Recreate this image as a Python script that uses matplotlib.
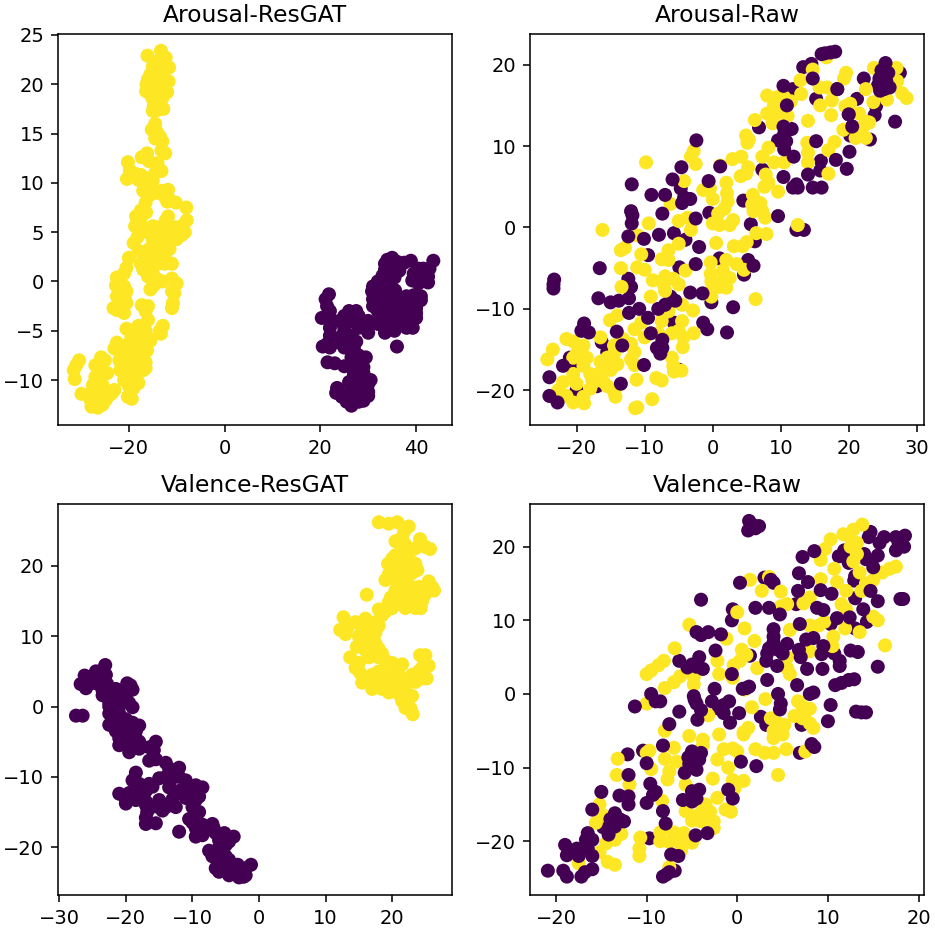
import matplotlib
matplotlib.use("Agg")
import matplotlib.pyplot as plt

titles = ["Arousal-ResGAT", "Arousal-Raw", "Valence-ResGAT", "Valence-Raw"]
xlims = [(-34.8, 47.5), (-26.85, 31.05), (-30.2, 29.0), (-22.87, 20.6)]
ylims = [(-14.56, 25.1), (-24.27, 23.77), (-26.8, 28.8), (-27.3, 25.8)]

arousal_gat_low = [(35,2.4),(34,2.2),(36,2),(33.5,1.8),(37.5,1.9),(38.9,2.1),(43.6,2.1),(35,1.3),(33.5,1.2),(36.5,1.1),(42.8,1.3),(41.5,1.3),(40.5,1.3),(34.5,0.6),(33,0.6),(39.5,0.8),(42.5,0.5),(41,0.5),(35.5,0.4),(33.8,0),(32,0),(39.2,0.1),(42.5,-0.1),(40.5,-0.2),(31,-0.5),(32.5,-0.6),(34.5,-0.5),(35.6,-0.9),(30.8,-1),(32,-1.5),(34,-1.5),(38,-1.5),(39.5,-1.4),(41,-1.5),(21.8,-1.3),(31,-1.8),(33,-2),(35,-2),(37,-1.8),(40,-2),(21.1,-1.8),(41,-1.9),(36,-2.5),(38,-2.5),(40,-2.7),(31,-2.5),(32,-3),(34,-2.6),(21.4,-2.5),(22,-3),(26,-3),(27.5,-3),(32.5,-3.5),(36,-3.2),(38,-3.3),(40,-3.2),(21.8,-3.5),(25,-3.5),(28,-3.5),(34,-3.5),(37,-3.8),(40,-3.7),(20.3,-3.7),(22,-4),(24,-4),(26,-4),(27.5,-4.2),(30,-4),(32,-4.3),(35,-4.2),(38,-4.2),(22,-4.7),(25,-4.7),(28,-4.7),(30,-4.6),(33,-4.5),(36,-4.5),(38,-4.7),(39.3,-4.7),(30,-5.2),(33.5,-5.2),(35.5,-5),(22,-5.5),(24.5,-5.5),(26.5,-5.5),(21.5,-6.3),(24,-6.2),(26,-6),(27.5,-6.1),(20.5,-6.6),(22,-6.7),(36,-6.6),(25,-6.7),(27,-6.8),(28,-7.5),(29.5,-7.7),(26.5,-7.7),(28,-8.2),(21.5,-8.2),(23,-8.3),(25,-8.6),(26.5,-8.7),(29,-8.7),(29,-9.3),(27,-9.5),(28,-10),(26,-10.2),(30.5,-10),(30,-10.4),(27,-10.8),(23.5,-10.8),(29,-10.8),(24,-11.2),(26,-11.4),(30,-11.2),(23.3,-11.3),(24.5,-11.7),(28,-11.8),(30,-11.6),(29,-12.1),(25.5,-12.2),(26.5,-12.6),(28,-12.2)]
arousal_gat_high = [(-16.1,22.9),(-13.3,23.4),(-12.3,22.7),(-14,22.3),(-15,21.8),(-12,21.8),(-11.6,21.7),(-13.5,21.3),(-15.5,21),(-14.5,20.8),(-16,20.5),(-12.5,20.5),(-11.7,20.3),(-14,20),(-16.3,20),(-15,19.8),(-13,19.6),(-16.4,19.3),(-15.5,19),(-14,19),(-12,19.2),(-13,18.6),(-15,18.5),(-14.8,17.8),(-15,17.3),(-14,17.4),(-12.8,17.5),(-14.2,18),(-14.5,16),(-15.2,15.4),(-14.2,15.2),(-14.5,14.5),(-13.5,14.7),(-13,14.2),(-13.2,13.3),(-12.4,13),(-16.2,13),(-17.3,12.6),(-15.8,12.2),(-20.2,12.1),(-19.8,11.3),(-14,12),(-13.2,11.2),(-14.5,11),(-19.6,10.8),(-20.4,10.4),(-18.5,10.9),(-17.5,10.8),(-18,10.3),(-16.5,10.5),(-15.8,10.4),(-15,10.2),(-16,9.5),(-17,9.2),(-15.5,8.8),(-14,9),(-13,9.2),(-11.8,9.3),(-12.5,8.6),(-11.5,8.3),(-10.2,8),(-12,8.1),(-16.5,8),(-17.5,7.2),(-8,7.5),(-16.4,7),(-18.5,6.6),(-17.5,6.5),(-11.8,6.6),(-12.3,6.2),(-7.9,6.2),(-9,5.6),(-17.6,5.8),(-18.7,5.6),(-15,5.6),(-13.7,5.5),(-12,5.3),(-10.5,5.5),(-8.3,5),(-16,5),(-14.5,4.8),(-13,4.8),(-11,4.8),(-9,4.7),(-18.2,4.5),(-10,4.3),(-19,3.9),(-15,4.2),(-13.5,4),(-12,4),(-14.5,3.5),(-16,3.2),(-13,3.3),(-11.5,3.3),(-18,3.1),(-15,2.8),(-14,2.5),(-12.5,2.5),(-20,2.4),(-16.5,2.4),(-15.5,2),(-14,1.8),(-12.5,1.8),(-11,1.8),(-17.5,1.8),(-17,1.2),(-15.5,1.3),(-20.5,1.4),(-21,0.8),(-16,0.5),(-15,0.8),(-22.5,0.4),(-14,0.2),(-13,0),(-11,0.3),(-10,-0.2),(-14.8,-0.4),(-15.5,-0.8),(-22.7,-0.4),(-21,-0.5),(-20.5,-1),(-11,-1),(-10.5,-1.2),(-22.5,-1.5),(-20.8,-1.8),(-22,-2.2),(-10.8,-2.2),(-20.5,-2.2),(-11,-2.7),(-23.2,-2.7),(-22.5,-2.9),(-21,-3.2),(-17.3,-2.4),(-16,-2.5),(-16.5,-3),(-16,-3.9),(-12.9,-4.5),(-13.5,-5),(-13.3,-5.3),(-20.5,-4.8),(-18.7,-4.9),(-18,-4.5),(-16.5,-5),(-19.5,-5.5),(-17.5,-5.5),(-16,-5.7),(-18.5,-6),(-15.5,-6),(-22.5,-6.2),(-20,-6.3),(-17,-6.5),(-23,-6.8),(-21.5,-7),(-19,-7),(-17.5,-7),(-16.2,-7),(-20,-7.5),(-18.5,-7.7),(-17,-7.8),(-25.8,-7.7),(-25,-8),(-30.4,-8),(-31,-8.5),(-22,-8),(-16.5,-8.2),(-21,-8.5),(-19.5,-8.6),(-18,-8.6),(-16.5,-8.8),(-27,-8.5),(-26.3,-8.8),(-21.8,-9),(-17,-9),(-31.5,-9),(-20,-9.3),(-18.3,-9.5),(-25.5,-9.3),(-24.5,-9.3),(-27,-9.7),(-31.3,-9.9),(-21,-10),(-19.5,-10),(-18,-10.3),(-26.5,-10.3),(-27.5,-10.5),(-25.5,-10.5),(-20,-10.6),(-19,-10.8),(-27,-11),(-25,-11.2),(-23,-11),(-28,-11.4),(-29.9,-11.4),(-26.5,-11.5),(-24,-11.5),(-23.5,-11.3),(-20.2,-11.7),(-19.4,-11.9),(-28,-12),(-26,-12),(-24.8,-12),(-27,-12.5),(-27.8,-12.7),(-26.5,-12.8),(-25.5,-12.5)]

arousal_raw_low = [(13.3,19.7),(14.5,20.1),(11.8,17),(18.3,17),(15.2,15.8),(21.2,15.8),(22.2,18.3),(27.5,19),(24.3,17.5),(24,14.9),(23.8,13.8),(20,13.9),(20.5,12.4),(20.2,11.3),(23.1,10.8),(6.8,12.3),(11.6,12.1),(9.6,10.7),(10.8,10.6),(15.9,8.2),(7.3,7.1),(15.8,7),(10.4,6.2),(-4.7,4.8),(-4.2,3.7),(-3.3,3.5),(4.5,3.3),(-0.5,1.8),(5.6,0.4),(12.3,-0.3),(13.4,-0.3),(-5.7,-0.7),(-4,-1.5),(6.2,-1.7),(-9.5,-3.4),(5.2,-4),(1,-3.8),(-4.9,-4.9),(4.6,-5.8),(-12.4,-6.3),(-12,-7.3),(-12.3,-8.7),(-6.2,-8.5),(-0.2,-9.2),(-5.7,-11.7),(-16.3,-14.1),(-15.5,-15.3),(-21,-16),(-20.3,-17),(-4.9,-17.5),(-20,-20),(-17,-19.5)]
arousal_raw_high = [(16.7,20.9),(14.7,19.4),(23.7,19.6),(27,19.6),(19.6,19),(19.3,18.3),(12.9,18.1),(15.7,17.2),(16.8,17.2),(27.1,18),(22.5,17),(13,16.4),(8,16.2),(9.5,16),(10.5,16),(9,15),(11.5,15.5),(15.8,15),(17.5,15.6),(19.5,14.9),(20.2,15.2),(23.6,15.4),(25.6,15.7),(27.8,16.5),(28.5,15.9),(8,14),(9.5,14),(17.4,13.8),(21.5,14),(22.5,13),(11,13.7),(6.2,13.2),(8.8,12.8),(14,13.1),(23,12.9),(22.2,12.5),(19.2,12),(21.8,11.7),(4.9,11.3),(5.3,10.8),(5.1,10.4),(22.5,11),(21,11),(13.9,10.4),(17.9,10.5),(17,9.5),(8.2,9.8),(-2.8,9.4),(-3.2,8.7),(2.9,8.4),(4.2,8.7),(14,9.2),(7.3,8.7),(-2.5,7.8),(14,8),(9,8),(10.5,8),(1.1,7.6),(5.2,7.4),(4.9,6.6),(4.1,6.3),(7.8,6.5),(17,6.6),(-9.8,8),(-4.2,5.7),(2,5.5),(8.2,5.5),(7.6,5),(-1.4,4.6),(-0.4,4.8),(9.6,4.4),(2.1,4.2),(5.9,4),(0,3.5),(2.2,3.2),(7,3),(5.8,2.8),(-6.2,2.9),(1.7,2.3),(6,2),(7.3,2),(0.8,1.7),(-3.7,1.2),(3,0.9),(-9.4,0.5),(7.7,1.2),(-5,0.8),(0,0.5),(1,0.3),(2.5,0.3),(12.5,0.3),(-16.2,-0.3),(-3.2,-0.3),(6.4,-0.7),(7.9,-0.8),(-11,-1),(0.5,-1.9),(3.1,-2.3),(4.4,-2.3),(5,-1.8),(-5,-2),(-6.5,-2.8),(-12.9,-2.5),(-13.5,-2.8),(-10.5,-3.3),(-7.5,-3.9),(-6.5,-4),(3.5,-4.5),(2,-4),(-0.3,-4.3),(-13.5,-5),(-11.1,-4.9),(-10,-5.2),(-4,-5.3),(-0.3,-5.7),(1.5,-5.3),(4.6,-5.2),(-8.8,-6.5),(-7,-6),(-5.8,-6.3),(-0.2,-6.6),(1.5,-6.5),(2.5,-6.2),(-7.2,-7),(-5,-7),(0,-7.3),(1,-7.3),(2,-7.4),(-13.4,-7.3),(-7,-7.8),(-0.2,-8.5),(-9.1,-8.5),(6.3,-8.8),(-4.5,-9.5),(-2.9,-10.2),(-6.5,-10.3),(-15.1,-11.4),(-14,-10.8),(-10.5,-11.7),(-7.5,-11.5),(-4.5,-11.5),(-11.5,-12.5),(-8,-13),(-5,-12.7),(-2.8,-13),(-13.2,-13.7),(-10,-13.5),(-6,-13),(-4.3,-13.5),(-21.5,-13.7),(-20.5,-14),(-19,-14.5),(-16.5,-13.5),(-14.5,-14.5),(-12,-14.3),(-4.4,-14.7),(-23.5,-15),(-20,-15.5),(-14.5,-15.5),(-11.5,-15.3),(-24.3,-16.2),(-20.5,-16),(-18.5,-16),(-15.5,-16),(-12,-16.2),(-6,-16),(-19,-17),(-16.5,-16.5),(-14,-16.8),(-11.5,-16.9),(-5.8,-17),(-5.7,-17.7),(-4.6,-17.6),(-18,-18),(-16.5,-17.8),(-15,-17.5),(-20.5,-18),(-17.7,-18.7),(-11.2,-18.7),(-8.3,-18.5),(-7.5,-18.8),(-22,-19),(-20,-19.2),(-17.5,-19),(-16,-19),(-15.5,-19.5),(-22.7,-20),(-18,-19.8),(-14.5,-20.2),(-21.5,-20.7),(-19,-20.8),(-14.3,-20.8),(-8.9,-21.1),(-20.5,-21.5),(-18.9,-21.6),(-11.1,-22.1),(-11.4,-22.2)]
# these purple dots sit over the yellow ones
arousal_raw_low_top = [(18,21.6),(17.3,21.5),(16.5,21.4),(16,21.3),(14.7,18.3),(10.4,17.4),(18.3,17),(10.9,15),(25.4,20.2),(24.8,19.3),(25.8,19),(24.5,18.3),(25.5,18),(25.2,17),(26,17.2),(24.6,16.8),(26.8,13),(20,13.9),(20.5,12.4),(10.4,12.4),(10.5,11.5),(10.5,9.6),(15.2,10.6),(11.9,8.7),(18.1,8.3),(20.1,9.3),(19.7,7.2),(14,6.5),(12.3,5.3),(12.5,4.9),(11.8,4.9),(14.7,4.9),(16,4.9),(-2.4,10.7),(-4.6,7.4),(1.1,7.5),(-5.9,5.9),(-0.6,5.7),(-11.9,5.3),(-9,4),(-7,4),(-4.5,3),(-7.4,1.7),(-12,2),(-11.8,1.5),(-11.9,0.5),(-2.5,1.1),(9.6,1.4),(-12.4,-1.1),(-10.1,-1.4),(-7.9,-0.9),(-2,-2.4),(6,-4.7),(-2.5,-4.5),(-16.6,-5),(-23.3,-6.4),(-23.4,-7),(-23.4,-7.5),(-16.8,-8.7),(-15,-9.2),(-13.8,-9),(-3.3,-8),(-1.5,-8.1),(-5.5,-9),(-7,-9.5),(-10.8,-10),(-8,-10),(-12.3,-10.5),(-9.5,-11.1),(3,-9.8),(-1.4,-11.7),(-0.8,-12.5),(2.1,-12.9),(-18.9,-11.8),(-19.3,-12.7),(-18.2,-12.9),(-14.1,-12.8),(-9.1,-13),(-13.3,-14.5),(-7.4,-13.8),(-7.4,-14.8),(-8.2,-14.8),(-7.7,-15.5),(-22,-17),(-10.1,-16.9),(-24,-18.4),(-13.5,-19.2),(-24,-20.7),(-22.8,-21.5)]

valence_gat_low = [(-23.1,5.9),(-23.5,5.2),(-24.5,5),(-26.2,4.4),(-23,4.5),(-25,4),(-23.5,4),(-26.8,3.2),(-25.8,3),(-24.5,3.3),(-22.8,3.2),(-19.8,3.3),(-19.3,3),(-26,2.6),(-23.5,2.3),(-21.5,2.5),(-20,2.3),(-19,2.4),(-23.5,1.6),(-22,1.5),(-20,1.5),(-21,0.8),(-22.5,0.5),(-19.5,0.5),(-21,0),(-22.5,0),(-19,-0.1),(-27.5,-1.3),(-26.5,-1.3),(-22.5,-1),(-21,-1),(-22,-2),(-20,-1.8),(-21,-2.5),(-19,-2.3),(-22.5,-2.6),(-20,-3),(-18,-2.7),(-21.5,-3.5),(-19.5,-3.6),(-18.5,-3.5),(-21,-4.5),(-20,-4.2),(-18.5,-4.5),(-21,-5.5),(-19.5,-5.2),(-18,-5),(-15.5,-5),(-19.5,-6.5),(-18,-6),(-16.5,-5.8),(-15.8,-6.2),(-16.5,-7.7),(-15.5,-7.5),(-14,-8),(-13.5,-8.8),(-12,-8.7),(-14,-10),(-18.5,-9.4),(-15,-10.2),(-13.3,-10.5),(-19,-10.5),(-11,-10.5),(-12,-10),(-18,-11),(-16.5,-11),(-16,-11.4),(-13.5,-11.5),(-11,-11.5),(-9.5,-11.2),(-8.5,-11.5),(-18,-12),(-17,-12),(-12,-12),(-10,-12.2),(-21,-12.4),(-19.5,-12.3),(-9,-12.8),(-20,-13.3),(-18.5,-13.3),(-17,-13.5),(-15,-13.3),(-13,-13.2),(-11,-13),(-9.5,-13.3),(-20,-13.8),(-17,-14),(-15.5,-14.2),(-14,-14.3),(-12.5,-14.3),(-10,-14.3),(-16.8,-15),(-14.5,-14.8),(-9,-15),(-17,-15.8),(-9.5,-15.8),(-10.5,-16),(-17,-16.7),(-15.5,-16.6),(-10,-16.5),(-8.5,-16.8),(-7,-16.7),(-6.8,-17.3),(-9.5,-17.3),(-8.2,-17.8),(-6.5,-18),(-12,-17.8),(-9.5,-18.5),(-8.5,-18.3),(-5.2,-18),(-3.8,-18.5),(-6,-19),(-4.5,-19.2),(-5,-19.7),(-6,-20),(-7.5,-20.5),(-6,-20.7),(-7,-21.3),(-5,-21.3),(-6,-22),(-4.5,-21.8),(-6.5,-23),(-5,-22.5),(-3.2,-22.5),(-1.2,-22.5),(-2,-23),(-6,-23.5),(-4,-23.5),(-2,-24),(-3,-24.3),(-4.5,-24),(-2.3,-24.2)]
valence_gat_high = [(18,26.2),(19.5,26),(20.8,26.2),(22.5,25.6),(21.8,24.9),(21.5,24),(20.5,23.5),(24.2,23.8),(24,22.8),(25,22.7),(23.5,22.5),(25.7,22.4),(22,23),(21.5,22),(20.5,21.5),(22.5,21.5),(20,21),(19.4,20.3),(21,20.5),(22.5,20.5),(23.5,20.3),(20,19.5),(22,19.8),(23.8,19.4),(19.5,18.8),(21,19),(23,19),(19,18),(20.5,18),(22,18),(25.5,17.8),(21,17),(23,17),(24,17),(26,17),(26.3,16.5),(20.5,16.5),(22,16),(24,16),(25,16),(16.2,15.9),(19.8,15.5),(21,15.5),(23,15),(24.5,15),(19.5,14.8),(21.5,14.5),(23.5,14.5),(22,14),(23.5,14),(24.3,14),(20,14),(18,13.8),(19,13.5),(18.5,13),(12.7,12.7),(16,12.5),(14.5,12),(17.5,12),(17,11.5),(18,11.5),(13.3,11.2),(15.5,11),(12.2,10.9),(17.5,10.5),(13,10.3),(15,10),(16,9.8),(17,9.5),(15.5,9),(17.5,9),(14.7,8.5),(16.5,8.5),(18,8.2),(16,8),(18.5,7.5),(24.2,7.3),(25,7.3),(16.5,7),(13.7,7),(18,7),(19,6.5),(20,6.2),(21.5,6),(15,6.2),(25.5,5.8),(14.5,5.5),(24.5,5.5),(18,5),(20,5),(24,5),(15.2,4.8),(17,4.5),(19,4.5),(21,4.5),(23,4.5),(24.5,4),(25.2,4),(15.5,3.4),(17.5,3.5),(19,3.5),(20.5,3.5),(22,3.8),(23.5,3.5),(17,2.5),(18.5,2.5),(20,2.5),(22,2.5),(19.5,2),(21,1.8),(22.5,1.5),(23,1.5),(21.5,0.8),(22.3,0.5),(22,-0.2),(22.8,-0.3),(23.1,-1.1)]

valence_raw_low = [(14.7,22),(14.5,21.3),(15.7,20.5),(11.2,18.7),(11.8,19.5),(12,18.5),(14,19),(14.2,18.3),(12.3,17.8),(13,16),(12.9,15.4),(3,15.8),(4,15.1),(-0.5,11.5),(6.5,12.2),(13,13),(-0.6,10),(10.3,9.5),(14.3,9.8),(13,8.9),(1.4,5.2),(10.7,5.5),(11.3,4.5),(-2,-2),(-6.4,4.5),(2.6,-3.1),(3.2,-4.2),(7.1,-4.2),(6.9,-8),(-10.4,-7.7),(-12.1,-8.2),(-12,-15),(-14.8,-18.1),(-9.7,-19.6),(-6.9,-24),(-13,-17)]
valence_raw_high = [(13.8,23),(12.8,22.3),(11.7,21.7),(12.5,21.2),(10.3,21),(13.2,20.5),(9.7,19.7),(12.5,20),(13.2,19),(9.2,18.2),(12.8,18),(10.7,17),(13.5,16.5),(17.5,17.3),(16.8,17),(16,16.5),(15,15.5),(9.2,15.6),(1.4,15.5),(3.5,15.9),(11,15.2),(14.2,15),(2.7,14),(4.8,13.9),(12,14),(13.7,14),(8,13.1),(7.3,12.3),(5.5,12.2),(4.8,11.9),(11.5,12.2),(12,11.5),(0,11.1),(15,10.5),(15.5,10),(-5.3,9.4),(8,9.3),(9,9.3),(9.6,9.8),(0.8,8.9),(11.9,8.9),(5.8,8.7),(13.5,8.4),(-1.2,7.5),(10.6,7.8),(1.9,7.2),(16.3,6.6),(-6.9,6.2),(0.5,6),(10.5,6.5),(8,5.8),(1,5.3),(0.3,4.5),(5.5,5),(-8.1,4.5),(-8.7,3.9),(-2.2,4.5),(-0.4,3.9),(-9.5,3.2),(2.2,3.5),(-10,2.7),(5.5,3.5),(5.8,2.7),(-2,2.7),(-0.5,2.2),(-6.3,2.4),(-4.8,2.3),(-7,1.6),(-4.8,1.3),(-8,0.8),(0.8,0.6),(3.1,-0.7),(6.7,-1),(7.2,-1.7),(-10,-1.3),(8,-2),(1.6,-1.8),(7.5,-2.5),(6.3,-3),(7.2,-3.3),(-3.2,-2.9),(3.7,-3.3),(8,-4),(4.5,-4),(5.2,-4.2),(8.4,-4.6),(1.2,-4.6),(0.7,-5.2),(4,-5),(4.7,-5.3),(-8,-5),(-2,-5.5),(5,-5.5),(-5.3,-5.7),(0.7,-5.5),(4,-6),(-3.8,-6.2),(-3.8,-7),(-7,-7.3),(-0.5,-7.4),(-1.5,-7.5),(-9.7,-7.7),(-10,-8),(2,-7.5),(0,-7.8),(5.4,-7.5),(7.5,-7.8),(3,-8),(4,-8),(-13.2,-8.8),(-8,-8.8),(-2.2,-8.9),(-6.7,-9.2),(-1,-10),(-9.5,-10.2),(-7.5,-10.5),(-13.3,-11),(4.5,-11),(-7.7,-11.6),(-2.7,-11.5),(-0.5,-11.7),(0.7,-11.8),(-11.9,-12.3),(-5.7,-12.3),(-0.3,-12.8),(-2.2,-14.1),(-8.3,-14.5),(-15.2,-15),(-3.5,-15),(-5.7,-15.9),(-3.8,-15.7),(-3,-16),(-1.3,-15.7),(-0.7,-16),(-14.8,-16.5),(-4.5,-16.5),(-3.2,-16.8),(-15.6,-17.5),(-5,-17.2),(-4,-17.3),(-2.6,-17.3),(-2.6,-18.2),(-12.8,-19),(-8.5,-18.8),(-7,-18.8),(-5.9,-18.9),(-13.5,-19.8),(-10.7,-19.5),(-5,-20.2),(-14.5,-20.3),(-8.5,-20),(-7.5,-20.1),(-6.5,-20),(-10.8,-21),(-15.2,-21.5),(-6.2,-21.2),(-14.3,-22.8),(-13.5,-23.2),(-17.5,-23),(-10.8,-22),(-7.5,-23.5)]
valence_raw_low_top = [(1.3,23.5),(1.8,22.9),(2.4,22.8),(1.2,22.2),(2,22.5),(16.2,21.3),(17.5,21.3),(18.5,21.5),(17.8,20.5),(18.4,20),(17.5,19.5),(8.5,19.4),(7.2,18.6),(15.5,18.8),(15,17.2),(6.8,16.4),(7.8,15.2),(0.3,15.1),(3.7,15.5),(6.7,14),(9.2,14.1),(10.4,13.6),(14.7,14),(15.5,12.6),(18,12.9),(18.3,12.9),(-4,12.8),(2,11.7),(3.5,11.7),(8.8,11.7),(9.5,11.4),(13.9,11.5),(4.7,10.8),(11,10.3),(12.4,10.4),(6.9,9.5),(4,8.8),(-4.5,8.4),(-4,8),(-3.2,8.4),(-1.8,8.1),(4,7.8),(7.6,7.4),(8.4,7.6),(4,7),(3.5,6.2),(4.5,6),(5.5,6.8),(9.5,6.5),(-2.4,5.9),(6.8,6),(12.5,5.9),(13.3,5.7),(3.3,5.5),(5,5.5),(9.3,5.4),(7,5),(3.2,4.5),(-5.5,3.6),(-4.5,3.7),(-3.8,3.4),(4.4,3.8),(-5,4),(-4.2,5),(7.7,3.4),(9.4,3.4),(11.3,3.8),(15.5,3.7),(-0.6,2.7),(3.3,1.9),(12.3,1.9),(12.9,2),(1.3,1),(1,0.8),(0.6,0.7),(6.6,1.2),(10.8,1.2),(11.5,1.5),(-2.5,0.7),(-9.5,0),(4.5,0),(8,0),(8.4,0.2),(-9,-1),(-8.5,-1),(-4.8,-0.3),(-4.7,-0.8),(-4.5,-1.3),(-2.8,-1),(-0.9,-1),(-1.5,-1.5),(4.8,-1.3),(-11.3,-1.7),(10.3,-1.5),(4.7,-2.1),(-4,-2.2),(-1.5,-2.6),(-6.4,-2.4),(0.2,-2.6),(13.1,-2.4),(13.7,-2.5),(14.2,-2.5),(-4.4,-3.5),(-0.8,-3.9),(10,-3.7),(-7.5,-4.1),(8.2,-6.8),(8.5,-7.2),(-8.2,-7),(-5,-7.8),(-4,-8),(-4.2,-8.9),(-5.4,-8.6),(-5.3,-9.5),(-10,-9.4),(0.4,-9.2),(2.1,-9.8),(-4.5,-10.3),(-5.8,-10.7),(-12,-11),(-9.6,-12.2),(-9,-13.3),(-1,-13),(-4.2,-13),(-5,-13.2),(-15,-13.3),(-13,-13.8),(-12,-13.9),(-9.3,-13.7),(-5,-14),(-4.5,-14.2),(-0.5,-14.2),(-6,-14.4),(-5,-14.6),(-10,-14.8),(-16,-15.7),(-8.2,-15.9),(-13.5,-16.2),(-14,-17),(-7.9,-17.6),(-12.5,-17.3),(-13.5,-18),(-14.2,-19.1),(-16.5,-18.9),(-16.7,-19.8),(-16,-19.8),(-4.6,-19.2),(-3.3,-18.9),(-19,-20.5),(-17.7,-21),(-16.5,-21),(-18.8,-21.9),(-17.5,-22),(-16,-22),(-7.3,-21.8),(-6.5,-22),(-20.9,-24),(-19.2,-24),(-16,-23.8),(-18.8,-24.8),(-17.2,-24.8),(-16.8,-24.2),(-7.5,-24.2),(-8.2,-24.8),(-7.8,-24.5)]

panels = [
    (arousal_gat_low, arousal_gat_high, []),
    (arousal_raw_low, arousal_raw_high, arousal_raw_low_top),
    (valence_gat_low, valence_gat_high, []),
    (valence_raw_low, valence_raw_high, valence_raw_low_top),
]

DPI = 140
fig, axs = plt.subplots(2, 2, figsize=(935 / DPI, 930 / DPI), dpi=DPI)
fig.subplots_adjust(left=58 / 935, right=924 / 935, top=1 - 34 / 930, bottom=1 - 895 / 930,
                    wspace=0.198, hspace=0.202)

for i, ax in enumerate(axs.flat):
    low, high, low_top = panels[i]
    pts = low + high + low_top
    labels = [0] * len(low) + [1] * len(high) + [0] * len(low_top)
    ax.scatter([p[0] for p in pts], [p[1] for p in pts], c=labels, cmap="viridis", s=52, linewidths=0)
    ax.set_xlim(xlims[i])
    ax.set_ylim(ylims[i])
    ax.set_title(titles[i])

fig.savefig("out.png", dpi=DPI)
